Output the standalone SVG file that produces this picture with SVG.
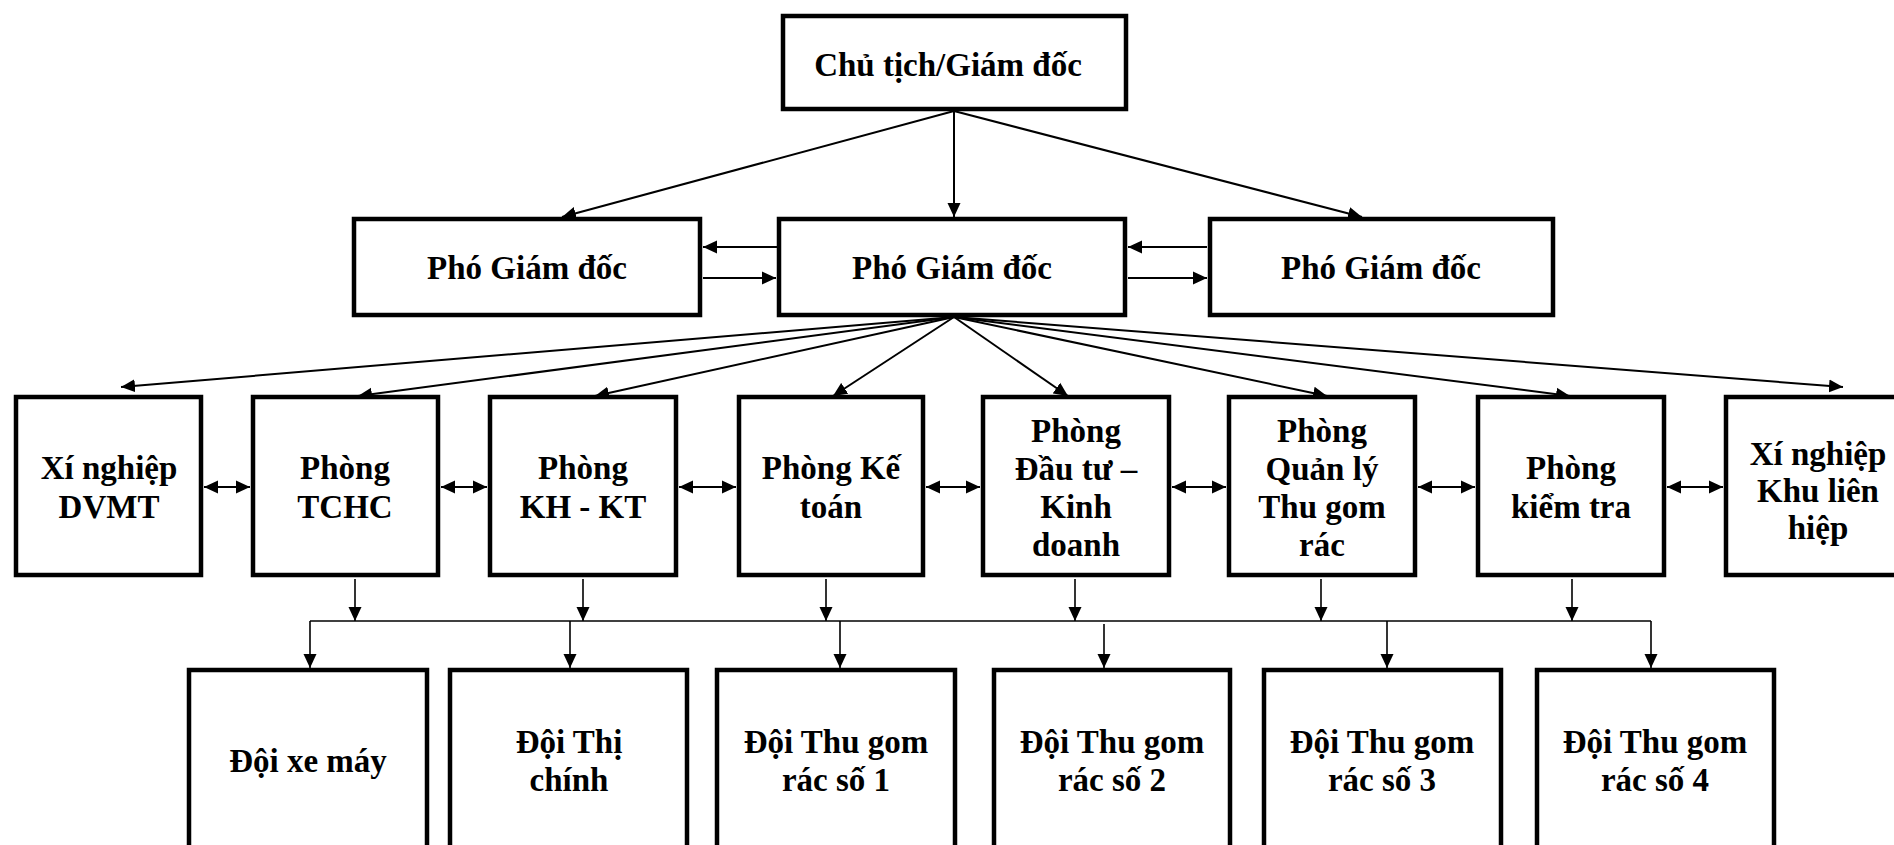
<svg xmlns="http://www.w3.org/2000/svg" width="1894" height="845" viewBox="0 0 1894 845">
<style>
.box{fill:#fff;stroke:#000;stroke-width:4.5}
.t{font-family:"Liberation Serif","Times New Roman",serif;font-weight:bold;font-size:33px;fill:#000;text-anchor:middle}
.c{fill:none;stroke:#000;stroke-width:2}
.cs{fill:none;stroke:#000;stroke-width:1.6}
</style>
<defs>
<marker id="ah" markerUnits="userSpaceOnUse" markerWidth="14" markerHeight="14" viewBox="0 0 14 14" refX="14" refY="7" orient="auto-start-reverse">
<path d="M0,0.5 L14,7 L0,13.5 z" fill="#000"/>
</marker>
</defs>
<rect width="1894" height="845" fill="#fff"/>
<g id="connectors">
<line class="c" x1="954" y1="111" x2="562" y2="217" marker-end="url(#ah)"/>
<line class="c" x1="954" y1="111" x2="954" y2="217" marker-end="url(#ah)"/>
<line class="c" x1="954" y1="111" x2="1362" y2="217" marker-end="url(#ah)"/>
<line class="c" x1="777" y1="247" x2="703" y2="247" marker-end="url(#ah)"/>
<line class="c" x1="703" y1="278" x2="776" y2="278" marker-end="url(#ah)"/>
<line class="c" x1="1207" y1="247" x2="1128" y2="247" marker-end="url(#ah)"/>
<line class="c" x1="1128" y1="278" x2="1207" y2="278" marker-end="url(#ah)"/>
<line class="c" x1="954" y1="317" x2="121" y2="387" marker-end="url(#ah)"/>
<line class="c" x1="954" y1="317" x2="358" y2="396" marker-end="url(#ah)"/>
<line class="c" x1="954" y1="317" x2="595" y2="396" marker-end="url(#ah)"/>
<line class="c" x1="954" y1="317" x2="833" y2="396" marker-end="url(#ah)"/>
<line class="c" x1="954" y1="317" x2="1068" y2="396" marker-end="url(#ah)"/>
<line class="c" x1="954" y1="317" x2="1327" y2="396" marker-end="url(#ah)"/>
<line class="c" x1="954" y1="317" x2="1570" y2="396" marker-end="url(#ah)"/>
<line class="c" x1="954" y1="317" x2="1843" y2="387" marker-end="url(#ah)"/>
<line class="c" x1="204" y1="487" x2="250" y2="487" marker-start="url(#ah)" marker-end="url(#ah)"/>
<line class="c" x1="441" y1="487" x2="487" y2="487" marker-start="url(#ah)" marker-end="url(#ah)"/>
<line class="c" x1="679" y1="487" x2="736" y2="487" marker-start="url(#ah)" marker-end="url(#ah)"/>
<line class="c" x1="926" y1="487" x2="980" y2="487" marker-start="url(#ah)" marker-end="url(#ah)"/>
<line class="c" x1="1172" y1="487" x2="1226" y2="487" marker-start="url(#ah)" marker-end="url(#ah)"/>
<line class="c" x1="1418" y1="487" x2="1475" y2="487" marker-start="url(#ah)" marker-end="url(#ah)"/>
<line class="c" x1="1667" y1="487" x2="1723" y2="487" marker-start="url(#ah)" marker-end="url(#ah)"/>
<line class="cs" x1="355" y1="579" x2="355" y2="621" marker-end="url(#ah)"/>
<line class="cs" x1="583" y1="579" x2="583" y2="621" marker-end="url(#ah)"/>
<line class="cs" x1="826" y1="579" x2="826" y2="621" marker-end="url(#ah)"/>
<line class="cs" x1="1075" y1="579" x2="1075" y2="621" marker-end="url(#ah)"/>
<line class="cs" x1="1321" y1="579" x2="1321" y2="621" marker-end="url(#ah)"/>
<line class="cs" x1="1572" y1="579" x2="1572" y2="621" marker-end="url(#ah)"/>
<line class="cs" x1="310" y1="621" x2="1651" y2="621"/>
<line class="cs" x1="310" y1="621" x2="310" y2="668" marker-end="url(#ah)"/>
<line class="cs" x1="570" y1="621" x2="570" y2="668" marker-end="url(#ah)"/>
<line class="cs" x1="840" y1="621" x2="840" y2="668" marker-end="url(#ah)"/>
<line class="cs" x1="1104" y1="624" x2="1104" y2="668" marker-end="url(#ah)"/>
<line class="cs" x1="1387" y1="621" x2="1387" y2="668" marker-end="url(#ah)"/>
<line class="cs" x1="1651" y1="621" x2="1651" y2="668" marker-end="url(#ah)"/>
</g>
<g id="n-ct"><rect class="box" x="783" y="16" width="343" height="93"/><text class="t" x="948" y="76" font-size="34">Chủ tịch/Giám đốc</text></g>
<g id="n-pgd1"><rect class="box" x="354" y="219" width="346" height="96"/><text class="t" x="527" y="279">Phó Giám đốc</text></g>
<g id="n-pgd2"><rect class="box" x="779" y="219" width="346" height="96"/><text class="t" x="952" y="279">Phó Giám đốc</text></g>
<g id="n-pgd3"><rect class="box" x="1210" y="219" width="343" height="96"/><text class="t" x="1381" y="279">Phó Giám đốc</text></g>
<g id="n-dvmt"><rect class="box" x="16" y="397" width="185" height="178"/><text class="t" x="109" y="479">Xí nghiệp</text><text class="t" x="109" y="518">DVMT</text></g>
<g id="n-tchc"><rect class="box" x="253" y="397" width="185" height="178"/><text class="t" x="345" y="479">Phòng</text><text class="t" x="345" y="518">TCHC</text></g>
<g id="n-khkt"><rect class="box" x="490" y="397" width="186" height="178"/><text class="t" x="583" y="479">Phòng</text><text class="t" x="583" y="518">KH - KT</text></g>
<g id="n-kt"><rect class="box" x="739" y="397" width="184" height="178"/><text class="t" x="831" y="479">Phòng Kế</text><text class="t" x="831" y="518">toán</text></g>
<g id="n-dtkd"><rect class="box" x="983" y="397" width="186" height="178"/><text class="t" x="1076" y="442">Phòng</text><text class="t" x="1076" y="480">Đầu tư –</text><text class="t" x="1076" y="518">Kinh</text><text class="t" x="1076" y="556">doanh</text></g>
<g id="n-ql"><rect class="box" x="1229" y="397" width="186" height="178"/><text class="t" x="1322" y="442">Phòng</text><text class="t" x="1322" y="480">Quản lý</text><text class="t" x="1322" y="518">Thu gom</text><text class="t" x="1322" y="556">rác</text></g>
<g id="n-ktra"><rect class="box" x="1478" y="397" width="186" height="178"/><text class="t" x="1571" y="479">Phòng</text><text class="t" x="1571" y="518">kiểm tra</text></g>
<g id="n-klh"><rect class="box" x="1726" y="397" width="186" height="178"/><text class="t" x="1818" y="465">Xí nghiệp</text><text class="t" x="1818" y="502">Khu liên</text><text class="t" x="1818" y="539">hiệp</text></g>
<g id="n-xm"><rect class="box" x="189" y="670" width="238" height="200"/><text class="t" x="308" y="772">Đội xe máy</text></g>
<g id="n-tc"><rect class="box" x="450" y="670" width="237" height="200"/><text class="t" x="569" y="753">Đội Thị</text><text class="t" x="569" y="791">chính</text></g>
<g id="n-tg1"><rect class="box" x="717" y="670" width="238" height="200"/><text class="t" x="836" y="753">Đội Thu gom</text><text class="t" x="836" y="791">rác số 1</text></g>
<g id="n-tg2"><rect class="box" x="994" y="670" width="236" height="200"/><text class="t" x="1112" y="753">Đội Thu gom</text><text class="t" x="1112" y="791">rác số 2</text></g>
<g id="n-tg3"><rect class="box" x="1264" y="670" width="237" height="200"/><text class="t" x="1382" y="753">Đội Thu gom</text><text class="t" x="1382" y="791">rác số 3</text></g>
<g id="n-tg4"><rect class="box" x="1537" y="670" width="237" height="200"/><text class="t" x="1655" y="753">Đội Thu gom</text><text class="t" x="1655" y="791">rác số 4</text></g>
</svg>
